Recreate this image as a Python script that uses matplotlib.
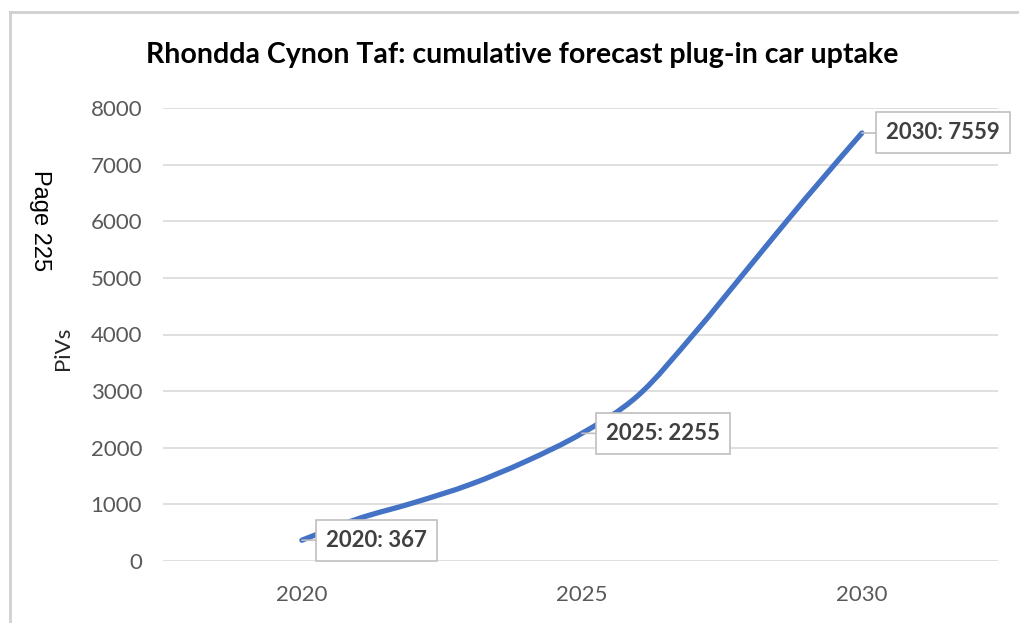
import matplotlib
matplotlib.use("Agg")
import matplotlib.pyplot as plt
from matplotlib.path import Path
from matplotlib.patches import PathPatch
from matplotlib.lines import Line2D
import numpy as np

# ---- data ----
years = [2020, 2021, 2022, 2023, 2024, 2025, 2026, 2027, 2028, 2029, 2030]
pivs = [367, 745, 1030, 1350, 1760, 2255, 2920, 4010, 5210, 6410, 7559]
labelled_years = [2020, 2025, 2030]
x_ticks = [2020, 2025, 2030]
y_ticks = [0, 1000, 2000, 3000, 4000, 5000, 6000, 7000, 8000]
title = "Rhondda Cynon Taf: cumulative forecast plug-in car uptake"
y_label = "PiVs"
page_text = "Page 225"

W, H = 1020, 623
fig = plt.figure(figsize=(W / 100, H / 100), dpi=100)
fig.patch.set_facecolor("white")

ax = fig.add_axes([163 / W, 1 - 561 / H, (998 - 163) / W, (561 - 108) / H])
ax.set_xlim(2017.52, 2032.43)
ax.set_ylim(0, 8000)

# smooth line (Catmull-Rom as cubic Bezier segments)
xs = np.array(years, dtype=float)
ys = np.array(pivs, dtype=float)
verts = [(xs[0], ys[0])]
codes = [Path.MOVETO]
n = len(xs)
for i in range(n - 1):
    p0 = np.array([xs[max(i - 1, 0)], ys[max(i - 1, 0)]])
    p1 = np.array([xs[i], ys[i]])
    p2 = np.array([xs[i + 1], ys[i + 1]])
    p3 = np.array([xs[min(i + 2, n - 1)], ys[min(i + 2, n - 1)]])
    c1 = p1 + (p2 - p0) / 6.0
    c2 = p2 - (p3 - p1) / 6.0
    verts += [tuple(c1), tuple(c2), tuple(p2)]
    codes += [Path.CURVE4] * 3
path = Path(verts, codes)
ax.add_patch(PathPatch(path, fill=False, edgecolor="#4472C4", lw=3.8,
                       capstyle="round", joinstyle="round", zorder=3))

# grid
ax.set_yticks(y_ticks)
ax.set_xticks(x_ticks)
ax.grid(axis="y", color="#d9d9d9", lw=1.2, zorder=0)
ax.set_axisbelow(True)
for s in ax.spines.values():
    s.set_visible(False)
ax.tick_params(axis="both", length=0, colors="#595959", labelsize=16)
ax.tick_params(axis="y", pad=15)
ax.tick_params(axis="x", pad=17)
for lbl in ax.get_xticklabels() + ax.get_yticklabels():
    lbl.set_fontfamily("Lato")

ax.set_ylabel(y_label, fontsize=16, family="Lato", color="#262626")
ax.yaxis.set_label_coords(-(163 - 73) / (998 - 163), 0.47)

# data labels
for yr in labelled_years:
    v = pivs[years.index(yr)]
    ax.annotate(f"{yr}: {v}", xy=(yr, v), xytext=(24, 0), textcoords="offset pixels",
                ha="left", va="center", fontsize=16, fontweight="bold",
                family="Lato", color="#404040", zorder=5,
                bbox=dict(boxstyle="square,pad=0.45", fc="white", ec="#bfbfbf", lw=1.2),
                arrowprops=dict(arrowstyle="-", color="#bfbfbf", lw=1.2,
                                shrinkA=0, shrinkB=0))

# title
fig.text(522 / W, 1 - 55 / H, title, ha="center", va="center",
         fontsize=20.5, fontweight="bold", family="Lato", color="black")

# page marker
fig.text(40 / W, 1 - 221 / H, page_text, ha="center", va="center", rotation=270,
         fontsize=17, family="Liberation Sans", color="black")

# outer chart frame (partially visible)
fig.add_artist(Line2D([10 / W, 10 / W], [0, 1 - 12 / H], transform=fig.transFigure,
                      color="#d0d0d0", lw=2))
fig.add_artist(Line2D([10 / W, 1], [1 - 12 / H, 1 - 12 / H], transform=fig.transFigure,
                      color="#d0d0d0", lw=2))

fig.savefig("out.png", dpi=100, facecolor="white")
